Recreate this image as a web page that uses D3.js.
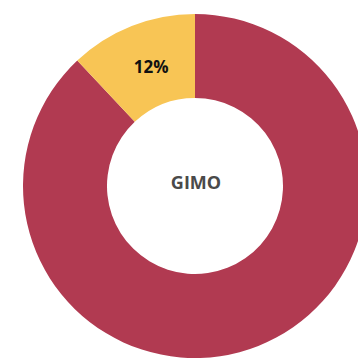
<!DOCTYPE html>
<html>
<head>
  <meta charset="utf-8">
  <title>GIMO donut</title>
  <style>
    body { margin: 0; background: #fff; }
  </style>
</head>
<body>
  <script src="https://d3js.org/d3.v7.min.js"></script>
  <script type="text/javascript">

var segments = ["Other", "GIMO"];
var values   = [88, 12];
var labels   = ["", "12%"];
var colors   = ["#B13A51", "#F8C555"];
var centerLabel = "GIMO";

var width = 358, height = 361;
var cx = 195, cy = 186,
    outerR = 172, innerR = 88;

var svg = d3.select("body")
    .append("svg")
    .attr("width", width)
    .attr("height", height);

var chart = svg.append("g")
    .attr("transform", "translate(" + cx + "," + cy + ")");

var data = segments.map(function(s, i){ return {name: s, value: values[i], label: labels[i], color: colors[i]}; });

var pie = d3.pie()
    .sort(null)
    .value(function(d){ return d.value; });

var arc = d3.arc()
    .innerRadius(innerR)
    .outerRadius(outerR);

var arcs = pie(data);

chart.selectAll(".slice")
    .data(arcs)
    .enter()
    .append("path")
    .attr("class", "slice")
    .attr("d", arc)
    .attr("fill", function(d){ return d.data.color; });

chart.selectAll(".lbl")
    .data(arcs.filter(function(d){ return d.data.label; }))
    .enter()
    .append("text")
    .attr("class", "lbl")
    .attr("x", function(d){ return arc.centroid(d)[0] + 4; })
    .attr("y", function(d){ return arc.centroid(d)[1] + 8; })
    .attr("text-anchor", "middle")
    .style("font-family", "'Open Sans', sans-serif")
    .style("font-weight", "bold")
    .style("font-size", "17px")
    .attr("fill", "#111")
    .text(function(d){ return d.data.label; });

chart.append("text")
    .attr("x", 1)
    .attr("y", 3)
    .attr("text-anchor", "middle")
    .style("font-family", "'Open Sans', sans-serif")
    .style("font-weight", "bold")
    .style("font-size", "18px")
    .attr("fill", "#4a4a4a")
    .text(centerLabel);

  </script>
</body>
</html>
